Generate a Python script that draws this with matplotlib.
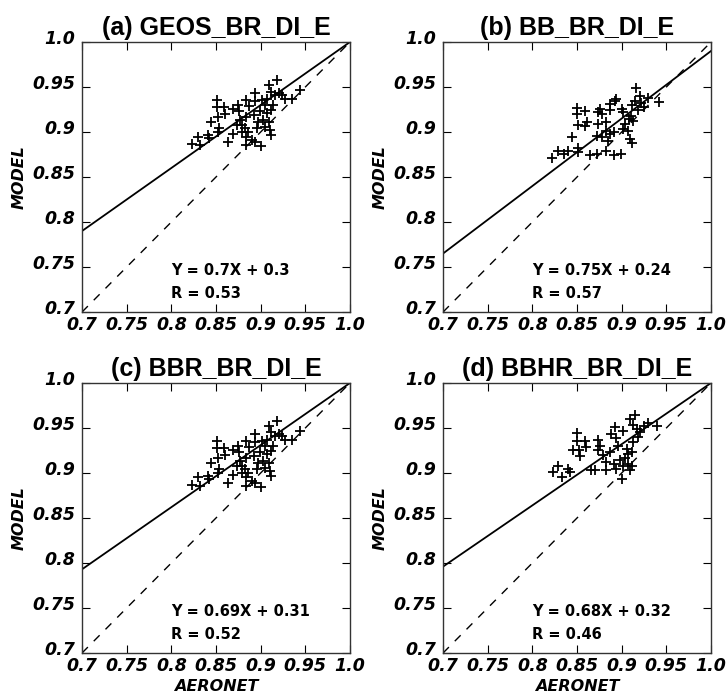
import numpy as np
import matplotlib
matplotlib.use('Agg')
import matplotlib.pyplot as plt
from matplotlib.transforms import ScaledTranslation

# scatter values, AERONET (x) vs MODEL (y)
aero_a = [0.851, 0.851, 0.859, 0.860, 0.852, 0.844, 0.853, 0.830, 0.841, 0.823,
          0.832, 0.842, 0.852, 0.869, 0.864, 0.875, 0.876, 0.884, 0.887, 0.894,
          0.894, 0.901, 0.905, 0.909, 0.918, 0.912, 0.916, 0.924, 0.927, 0.935,
          0.944, 0.914, 0.912, 0.907, 0.899, 0.892, 0.884, 0.877, 0.879, 0.882,
          0.886, 0.897, 0.903, 0.909, 0.905, 0.896, 0.910, 0.912, 0.884, 0.890,
          0.894, 0.900, 0.884, 0.873, 0.879, 0.869, 0.907, 0.920]
model_a = [0.936, 0.928, 0.928, 0.920, 0.917, 0.911, 0.904, 0.895, 0.897, 0.887,
           0.886, 0.893, 0.900, 0.898, 0.889, 0.930, 0.923, 0.936, 0.929, 0.943,
           0.934, 0.936, 0.930, 0.952, 0.958, 0.945, 0.941, 0.941, 0.937, 0.937,
           0.947, 0.930, 0.924, 0.921, 0.923, 0.919, 0.917, 0.913, 0.908, 0.904,
           0.900, 0.911, 0.913, 0.911, 0.906, 0.904, 0.902, 0.897, 0.895, 0.891,
           0.889, 0.884, 0.886, 0.908, 0.900, 0.926, 0.937, 0.943]

aero_b = [0.822, 0.829, 0.835, 0.840, 0.851, 0.851, 0.844, 0.850, 0.850, 0.859,
          0.851, 0.861, 0.859, 0.874, 0.876, 0.878, 0.874, 0.883, 0.887, 0.893,
          0.894, 0.887, 0.883, 0.872, 0.878, 0.887, 0.891, 0.885, 0.883, 0.891,
          0.899, 0.865, 0.872, 0.900, 0.902, 0.904, 0.902, 0.907, 0.909, 0.912,
          0.915, 0.918, 0.920, 0.910, 0.913, 0.922, 0.925, 0.930, 0.942, 0.912,
          0.908, 0.916]
model_b = [0.871, 0.879, 0.876, 0.879, 0.882, 0.878, 0.895, 0.927, 0.920, 0.923,
           0.908, 0.911, 0.907, 0.922, 0.926, 0.920, 0.909, 0.911, 0.931, 0.935,
           0.937, 0.924, 0.901, 0.896, 0.894, 0.898, 0.900, 0.890, 0.879, 0.874,
           0.876, 0.874, 0.876, 0.926, 0.922, 0.909, 0.903, 0.901, 0.892, 0.930,
           0.935, 0.925, 0.940, 0.918, 0.912, 0.932, 0.928, 0.938, 0.933, 0.888,
           0.915, 0.949]

aero_c = aero_a
model_c = [0.936, 0.928, 0.928, 0.920, 0.917, 0.911, 0.904, 0.895, 0.897, 0.887,
           0.886, 0.893, 0.900, 0.898, 0.889, 0.930, 0.923, 0.936, 0.929, 0.943,
           0.934, 0.936, 0.930, 0.952, 0.958, 0.945, 0.941, 0.941, 0.937, 0.937,
           0.947, 0.930, 0.924, 0.921, 0.923, 0.919, 0.917, 0.913, 0.908, 0.904,
           0.900, 0.911, 0.913, 0.911, 0.906, 0.904, 0.902, 0.897, 0.895, 0.891,
           0.889, 0.884, 0.886, 0.908, 0.900, 0.926, 0.937, 0.943]

aero_d = [0.823, 0.829, 0.833, 0.840, 0.842, 0.850, 0.850, 0.846, 0.852, 0.853,
          0.859, 0.860, 0.866, 0.870, 0.874, 0.876, 0.874, 0.879, 0.883, 0.883,
          0.887, 0.888, 0.893, 0.894, 0.896, 0.891, 0.894, 0.898, 0.902, 0.904,
          0.907, 0.902, 0.909, 0.915, 0.913, 0.917, 0.913, 0.911, 0.907, 0.906,
          0.900, 0.909, 0.911, 0.925, 0.930, 0.921, 0.940, 0.918]
model_d = [0.901, 0.908, 0.896, 0.904, 0.901, 0.944, 0.935, 0.926, 0.925, 0.919,
           0.935, 0.929, 0.903, 0.903, 0.937, 0.930, 0.925, 0.920, 0.912, 0.903,
           0.923, 0.943, 0.951, 0.939, 0.930, 0.910, 0.904, 0.914, 0.908, 0.917,
           0.921, 0.947, 0.960, 0.964, 0.953, 0.949, 0.934, 0.923, 0.910, 0.927,
           0.893, 0.903, 0.908, 0.952, 0.955, 0.945, 0.952, 0.940]

titles = ['(a) GEOS_BR_DI_E', '(b) BB_BR_DI_E', '(c) BBR_BR_DI_E', '(d) BBHR_BR_DI_E']
slopes = [0.7, 0.75, 0.69, 0.68]
intercepts = [0.3, 0.24, 0.31, 0.32]
r_values = [0.53, 0.57, 0.52, 0.46]

ticks = [0.7, 0.75, 0.8, 0.85, 0.9, 0.95, 1.0]
tick_labels = ['0.7', '0.75', '0.8', '0.85', '0.9', '0.95', '1.0']

xs = [aero_a, aero_b, aero_c, aero_d]
ys = [model_a, model_b, model_c, model_d]

fig = plt.figure(figsize=(7.27, 6.99), dpi=100)
# axes boxes [left, bottom, width, height]
boxes = [[0.1128, 0.5536, 0.3686, 0.3863],
         [0.6094, 0.5536, 0.3686, 0.3863],
         [0.1128, 0.0658, 0.3686, 0.3863],
         [0.6094, 0.0658, 0.3686, 0.3863]]

tickfont = dict(family='DejaVu Sans', weight='bold', style='italic', size=12.5)
# nudge y tick labels up a little so the corner labels don't collide
lift = ScaledTranslation(0, 3.5 / 72, fig.dpi_scale_trans)

for i in range(4):
    ax = fig.add_axes(boxes[i])
    ax.plot(xs[i], ys[i], '+', color='black', markersize=7.5, markeredgewidth=1.3)
    line_x = np.array([0.7, 1.0])
    ax.plot(line_x, slopes[i] * line_x + intercepts[i], '-', color='black', lw=1.3)
    ax.plot(line_x, line_x, '--', color='black', lw=1.0, dashes=(6, 6))
    ax.set_xlim(0.7, 1.0)
    ax.set_ylim(0.7, 1.0)
    ax.set_xticks(ticks)
    ax.set_yticks(ticks)
    ax.set_xticklabels(tick_labels, fontdict=tickfont)
    ax.set_yticklabels(tick_labels, fontdict=tickfont)
    ax.tick_params(direction='in', top=True, right=True, length=6, width=0.8)
    ax.tick_params(axis='x', pad=3)
    ax.tick_params(axis='y', pad=5)
    for lab in ax.get_yticklabels():
        lab.set_transform(lab.get_transform() + lift)
    for sp in ax.spines.values():
        sp.set_linewidth(1.0)
        sp.set_color('#333333')
    ax.set_title(titles[i], fontsize=18, fontweight='bold', family='Liberation Sans', pad=5)
    ax.set_ylabel('MODEL', fontsize=11.5, fontweight='bold', style='italic', labelpad=4)
    if i >= 2:
        ax.set_xlabel('AERONET', fontsize=11.5, fontweight='bold', style='italic', labelpad=3)
    eq = 'Y = %gX + %g' % (slopes[i], intercepts[i])
    ax.text(0.80, 0.746, eq, fontsize=10.5, fontweight='bold', va='center', ha='left')
    ax.text(0.80, 0.721, 'R = %.2f' % r_values[i], fontsize=10.5, fontweight='bold',
            va='center', ha='left')

fig.savefig('out.png', dpi=100)
